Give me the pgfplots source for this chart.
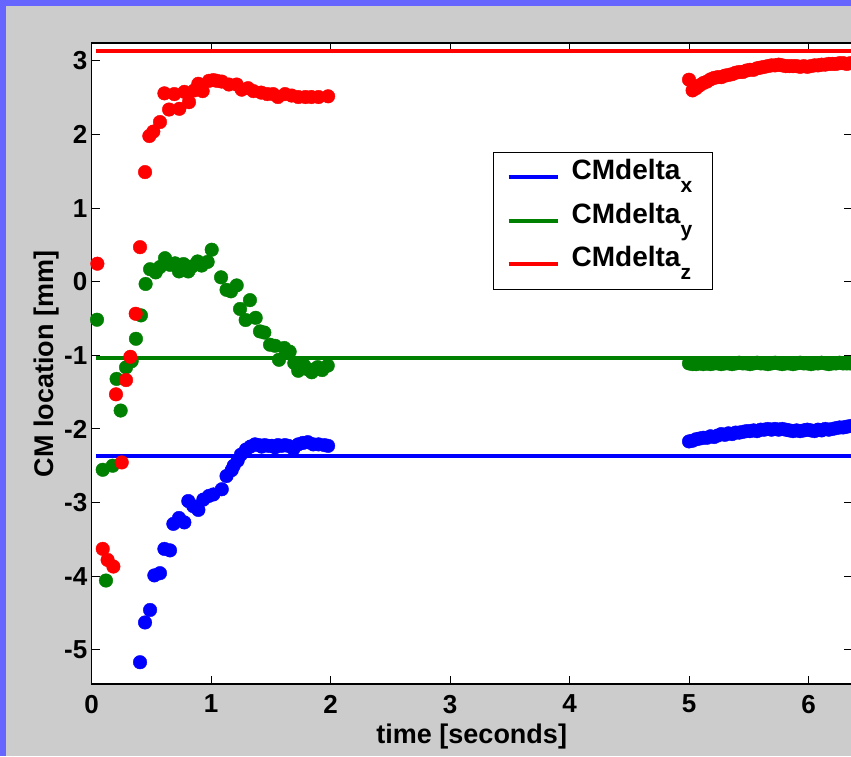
\documentclass[border=0pt]{standalone}
\usepackage{pgfplots}
\pgfplotsset{compat=1.18}
\usepackage{fontspec}
\setmainfont{Liberation Sans}
\definecolor{mblue}{RGB}{0,0,255}
\definecolor{mgreen}{RGB}{0,128,0}
\definecolor{mred}{RGB}{255,0,0}
\definecolor{figgray}{RGB}{204,204,204}
\definecolor{edge}{RGB}{102,102,255}
\newcommand\sub[1]{\raisebox{-13pt}{\fontsize{21}{21}\selectfont #1}\rule{7pt}{0pt}}

\begin{document}
\begin{tikzpicture}
\fill[edge] (0pt,0pt) rectangle (851pt,756pt);
\fill[figgray] (6pt,0pt) rectangle (851pt,750pt);
\begin{axis}[
    at={(91.5pt,71.7pt)}, anchor=south west,
    scale only axis, width=760.5pt, height=641pt,
    xmin=0, xmax=6.364, ymin=-5.47, ymax=3.24,
    axis background/.style={fill=white},
    axis line style={line width=1.8pt, black},
    tick align=inside, major tick length=8pt,
    tick style={line width=1pt, black},
    xtick={0,1,2,3,4,5,6}, xticklabels={0,1,2,3,4,5,6},
    ytick={-5,-4,-3,-2,-1,0,1,2,3}, yticklabels={-5,-4,-3,-2,-1,0,1,2,3},
    ticklabel style={font=\fontsize{26}{26}\selectfont\bfseries},
    xticklabel style={inner sep=0pt, yshift=-10.5pt},
    yticklabel style={inner sep=0pt, xshift=-4pt},
    xlabel={time [seconds]}, ylabel={CM location [mm]},
    label style={font=\fontsize{27}{27}\selectfont\bfseries},
    xlabel style={at={([yshift=-39.7pt]axis description cs:0.5,0)}, anchor=north, inner sep=0pt},
    ylabel style={at={([xshift=-32pt]axis description cs:0,0.5)}, rotate=0, anchor=south, inner sep=0pt},
    legend cell align=left,
    legend image code/.code={\draw[#1, line width=4pt] (0pt,0pt) -- (49pt,0pt);},
    legend style={at={(rel axis cs:0.5275,0.8309)}, anchor=north west,
        draw=black, line width=1pt, fill=white,
        inner xsep=13.5pt, inner ysep=3.5pt, row sep=0pt, column sep=12pt,
        font=\fontsize{28}{28}\selectfont\bfseries,
        nodes={inner sep=0pt, text height=24.15pt, text depth=19.15pt}},
]
\addplot[mblue, line width=4pt] coordinates {(0.04,-2.374) (6.364,-2.374)};
\addlegendentry{CMdelta\sub{x}}
\addplot[mgreen, line width=4pt] coordinates {(0.04,-1.042) (6.364,-1.042)};
\addlegendentry{CMdelta\sub{y}}
\addplot[mred, line width=4pt] coordinates {(0.04,3.13) (6.364,3.13)};
\addlegendentry{CMdelta\sub{z}}

% blue dots
\addplot[forget plot, only marks, mark=*, mark size=6.8pt, mblue, mark options={draw=mblue, fill=mblue}] coordinates {
(0.406,-5.17) (0.448,-4.63) (0.49,-4.46) (0.526,-3.99) (0.573,-3.96) (0.61,-3.63) (0.657,-3.65)
(0.685,-3.29) (0.732,-3.21) (0.777,-3.27) (0.81,-2.98) (0.852,-3.05) (0.894,-3.10) (0.936,-2.96)
(0.983,-2.91) (1.02,-2.89) (1.09,-2.82) (1.13,-2.64) (1.173,-2.56) (1.19,-2.50) (1.223,-2.43) (1.25,-2.35)
(1.293,-2.28) (1.33,-2.24) (1.368,-2.21) (1.40,-2.22) (1.424,-2.24) (1.45,-2.22) (1.48,-2.23) (1.51,-2.23)
(1.536,-2.25) (1.56,-2.22) (1.59,-2.23) (1.62,-2.22) (1.647,-2.23) (1.69,-2.27) (1.73,-2.21) (1.77,-2.19)
(1.81,-2.18) (1.856,-2.21) (1.90,-2.21) (1.95,-2.22) (1.98,-2.23)
(5.00,-2.17) (5.03,-2.16) (5.06,-2.14) (5.09,-2.13) (5.12,-2.12) (5.15,-2.12) (5.18,-2.10) (5.21,-2.11)
(5.24,-2.09) (5.27,-2.07) (5.30,-2.08) (5.33,-2.06) (5.36,-2.07) (5.39,-2.05) (5.42,-2.05) (5.45,-2.04)
(5.48,-2.03) (5.51,-2.03) (5.54,-2.02) (5.57,-2.03) (5.60,-2.01) (5.63,-2.01) (5.66,-2.00) (5.69,-2.01)
(5.72,-2.00) (5.75,-2.01) (5.78,-2.00) (5.81,-2.01) (5.84,-2.02) (5.87,-2.03) (5.90,-2.02) (5.93,-2.03)
(5.96,-2.02) (5.99,-2.01) (6.02,-2.02) (6.05,-2.03) (6.08,-2.01) (6.11,-2.02) (6.14,-2.00) (6.17,-2.01)
(6.20,-2.00) (6.23,-1.99) (6.26,-1.98) (6.29,-1.98) (6.32,-1.97) (6.35,-1.96) (6.38,-1.96)
};
% green dots
\addplot[forget plot, only marks, mark=*, mark size=6.8pt, mgreen, mark options={draw=mgreen, fill=mgreen}] coordinates {
(0.046,-0.516) (0.094,-2.555) (0.121,-4.06) (0.177,-2.50) (0.21,-1.32) (0.244,-1.75) (0.289,-1.164)
(0.336,-1.08) (0.372,-0.775) (0.414,-0.457) (0.453,-0.03) (0.49,0.17) (0.537,0.127) (0.573,0.20)
(0.615,0.32) (0.657,0.23) (0.699,0.25) (0.732,0.14) (0.77,0.24) (0.81,0.14) (0.844,0.21) (0.888,0.276)
(0.922,0.22) (0.972,0.27) (1.006,0.435) (1.084,0.06) (1.13,-0.11) (1.167,-0.13) (1.215,-0.05)
(1.243,-0.37) (1.29,-0.52) (1.326,-0.25) (1.374,-0.49) (1.41,-0.675) (1.446,-0.69) (1.494,-0.856)
(1.536,-0.87) (1.569,-1.06) (1.613,-0.90) (1.658,-0.95) (1.697,-1.105) (1.73,-1.21) (1.78,-1.14)
(1.81,-1.19) (1.843,-1.23) (1.87,-1.19) (1.893,-1.16) (1.93,-1.20) (1.977,-1.14)
(5.00,-1.11) (5.03,-1.12) (5.06,-1.12) (5.09,-1.11) (5.12,-1.12) (5.15,-1.11) (5.18,-1.12) (5.21,-1.11)
(5.24,-1.11) (5.27,-1.12) (5.30,-1.11) (5.33,-1.11) (5.36,-1.12) (5.39,-1.11) (5.42,-1.10) (5.45,-1.11)
(5.48,-1.11) (5.51,-1.12) (5.54,-1.11) (5.57,-1.10) (5.60,-1.11) (5.63,-1.11) (5.66,-1.12) (5.69,-1.11)
(5.72,-1.10) (5.75,-1.11) (5.78,-1.12) (5.81,-1.11) (5.84,-1.11) (5.87,-1.12) (5.90,-1.11) (5.93,-1.10)
(5.96,-1.11) (5.99,-1.11) (6.02,-1.12) (6.05,-1.11) (6.08,-1.11) (6.11,-1.10) (6.14,-1.11) (6.17,-1.12)
(6.20,-1.11) (6.23,-1.11) (6.26,-1.10) (6.29,-1.11) (6.32,-1.11) (6.35,-1.11) (6.38,-1.10)
};
% red dots
\addplot[forget plot, only marks, mark=*, mark size=6.8pt, mred, mark options={draw=mred, fill=mred}] coordinates {
(0.049,0.245) (0.094,-3.63) (0.135,-3.78) (0.183,-3.87) (0.205,-1.53) (0.253,-2.455) (0.289,-1.336)
(0.325,-1.02) (0.37,-0.435) (0.406,0.47) (0.448,1.49) (0.484,1.98) (0.517,2.04) (0.573,2.17)
(0.61,2.56) (0.649,2.34) (0.693,2.55) (0.735,2.35) (0.777,2.58) (0.816,2.44) (0.86,2.60) (0.894,2.69)
(0.93,2.59) (0.983,2.73) (1.02,2.74) (1.05,2.73) (1.09,2.72) (1.15,2.68) (1.215,2.68) (1.257,2.61)
(1.31,2.63) (1.355,2.59) (1.42,2.57) (1.47,2.55) (1.52,2.55) (1.56,2.51) (1.62,2.55) (1.675,2.53)
(1.73,2.51) (1.79,2.51) (1.84,2.51) (1.90,2.51) (1.98,2.52)
(5.00,2.745) (5.03,2.60) (5.06,2.63) (5.09,2.67) (5.12,2.70) (5.15,2.72) (5.18,2.75) (5.21,2.77)
(5.24,2.78) (5.27,2.78) (5.30,2.80) (5.33,2.81) (5.36,2.82) (5.39,2.84) (5.42,2.85) (5.45,2.85)
(5.48,2.87) (5.51,2.88) (5.54,2.88) (5.57,2.90) (5.60,2.91) (5.63,2.92) (5.66,2.93) (5.69,2.94)
(5.72,2.94) (5.75,2.95) (5.78,2.94) (5.81,2.93) (5.84,2.93) (5.87,2.93) (5.90,2.93) (5.93,2.92)
(5.96,2.93) (5.99,2.92) (6.02,2.93) (6.05,2.94) (6.08,2.94) (6.11,2.95) (6.14,2.95) (6.17,2.96)
(6.20,2.96) (6.23,2.96) (6.26,2.97) (6.29,2.97) (6.32,2.96) (6.35,2.97) (6.38,2.97)
};
\end{axis}
\pgfresetboundingbox
\useasboundingbox (0pt,0pt) rectangle (851pt,756pt);
\end{tikzpicture}
\end{document}
